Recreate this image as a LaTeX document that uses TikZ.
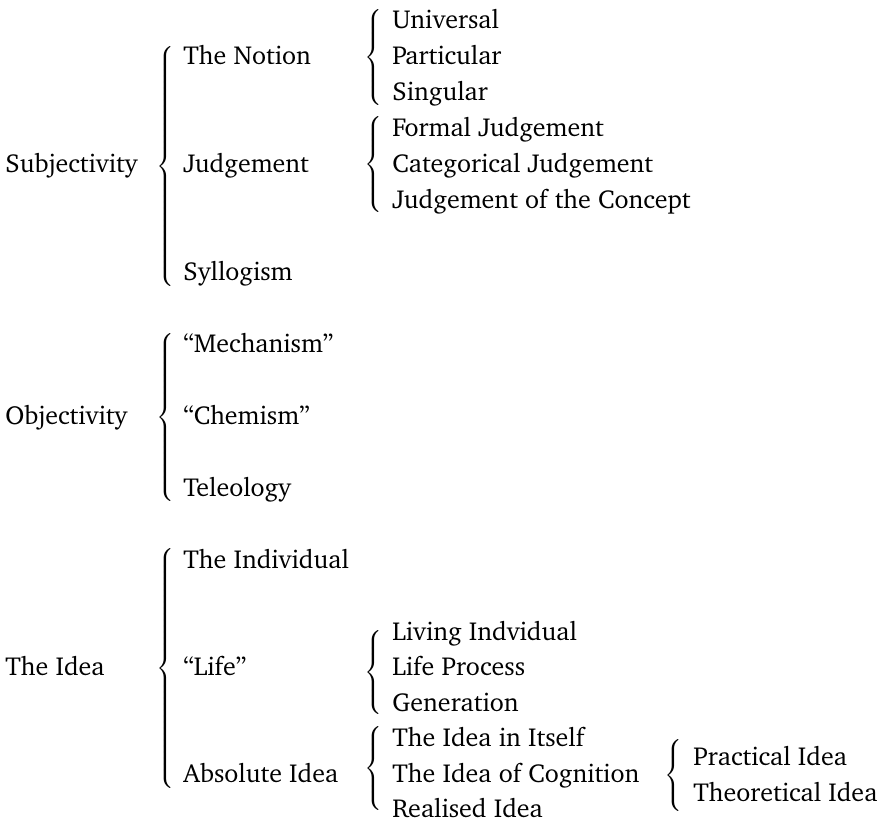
\documentclass[tikz,border=0pt]{standalone}
\usepackage[T1]{fontenc}
\usepackage{charter}
\newcommand{\bracetall}[1]{$\left\{\vcenter{\hbox{\rule{0pt}{#1}}}\right.$}
\tikzset{
  item/.style={anchor=base west, inner sep=0pt, font=\fontsize{13}{15}\selectfont},
  brc/.style={anchor=west, inner sep=0pt, font=\fontsize{12}{14}\selectfont}
}
\begin{document}
\begin{tikzpicture}[x=0.5pt, y=-0.5pt]
    \useasboundingbox (0,0) rectangle (882,826);
    % Subjectivity
    \node[item] (subj) at (5,172) {Subjectivity};
    \node[brc] (subjbr) at (156,166) {\bracetall{123pt}};
    \node[item] (notion) at (183,64) {The Notion};
    \node[item] (judge) at (183,172) {Judgement};
    \node[item] (syll) at (183,280) {Syllogism};
    \node[brc] (notionbr) at (364,57.5) {\bracetall{49pt}};
    \node[item] (univ) at (392,28) {Universal};
    \node[item] (part) at (392,64) {Particular};
    \node[item] (sing) at (392,100) {Singular};
    \node[brc] (judgebr) at (364,164) {\bracetall{49pt}};
    \node[item] (formal) at (392,136) {Formal Judgement};
    \node[item] (categ) at (392,172) {Categorical Judgement};
    \node[item] (concept) at (392,208) {Judgement of the Concept};
    % Objectivity
    \node[item] (obj) at (5,424) {Objectivity};
    \node[brc] (objbr) at (156,417) {\bracetall{86pt}};
    \node[item] (mech) at (183,352) {``Mechanism''};
    \node[item] (chem) at (183,424) {``Chemism''};
    \node[item] (tele) at (183,496) {Teleology};
    % The Idea
    \node[item] (idea) at (5,675.5) {The Idea};
    \node[brc] (ideabr) at (156,668) {\bracetall{121pt}};
    \node[item] (indiv) at (183,568) {The Individual};
    \node[item] (life) at (183,675.5) {``Life''};
    \node[item] (absol) at (183,782) {Absolute Idea};
    \node[brc] (lifebr) at (364,672) {\bracetall{45pt}};
    \node[item] (living) at (392,640) {Living Indvidual};
    \node[item] (proc) at (392,675.5) {Life Process};
    \node[item] (gen) at (392,711) {Generation};
    \node[brc] (absolbr) at (364,768) {\bracetall{45pt}};
    \node[item] (itself) at (392,746.5) {The Idea in Itself};
    \node[item] (cogn) at (392,782) {The Idea of Cognition};
    \node[item] (real) at (392,817.5) {Realised Idea};
    \node[brc] (cognbr) at (664,775) {\bracetall{35pt}};
    \node[item] (pract) at (693,765) {Practical Idea};
    \node[item] (theor) at (693,801) {Theoretical Idea};
\end{tikzpicture}
\end{document}
